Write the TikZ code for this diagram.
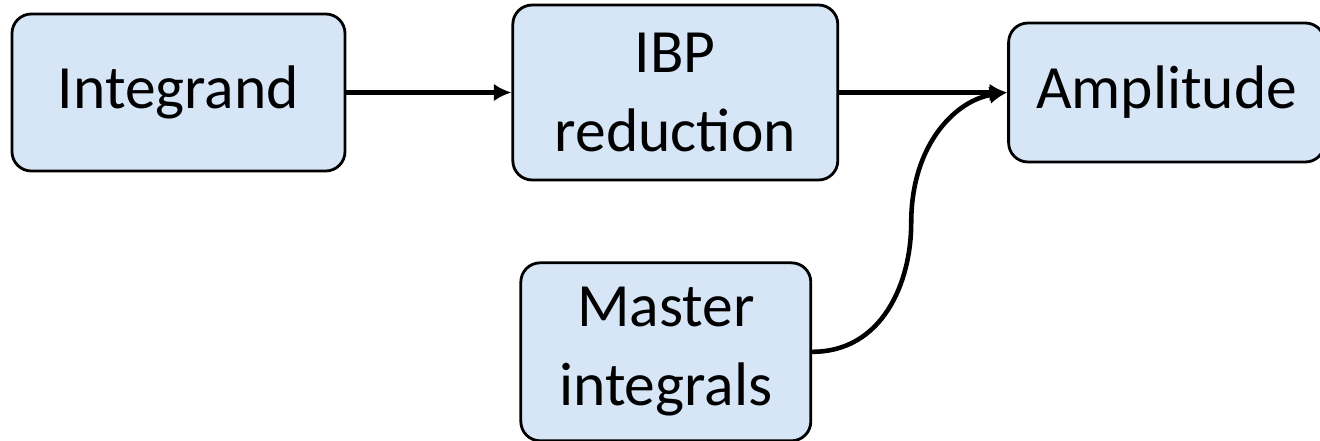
\documentclass[tikz,border=0pt]{standalone}
\usepackage{fontspec}
\setmainfont{Carlito}
\usetikzlibrary{positioning, arrows.meta}
\definecolor{boxblue}{RGB}{214,230,247}

\begin{document}
\begin{tikzpicture}[
    font=\fontsize{35}{45}\selectfont,
    box/.style={
        rectangle,
        rounded corners=11pt,
        draw=black,
        fill=boxblue,
        line width=1.6pt,
        align=center,
        inner sep=0pt
    },
    arrow/.style={-{Latex[length=10pt,width=10pt]}, line width=2.6pt, draw=black}
]
\useasboundingbox (-3.57,1.85) rectangle (22.83,-6.95);

% --- Fila superior ---
\node[box, minimum width=6.66cm, minimum height=3.14cm] (integrand) {Integrand};
\node[box, minimum width=6.5cm, minimum height=3.5cm, right=3.3cm of integrand] (ibp) {IBP\\reduction};
\node[box, minimum width=6.32cm, minimum height=2.78cm, right=3.36cm of ibp] (amplitude) {Amplitude};

% --- Integrales maestras ---
\node[box, minimum width=5.8cm, minimum height=3.56cm, below=1.6cm of ibp, xshift=-0.19cm] (master) {Master\\integrals};

% --- Flechas ---
\draw[arrow] (integrand) -- (ibp);
\draw[arrow] (ibp) -- (amplitude);
\coordinate[above right=2.58cm and 1.98cm of master.east] (bend);
\draw[arrow] (master.east) .. controls +(1.4,0) and +(0,-1.2) .. (bend)
    .. controls +(0,1.6) and +(-1.0,-0.15) .. (amplitude.west);

\end{tikzpicture}
\end{document}
